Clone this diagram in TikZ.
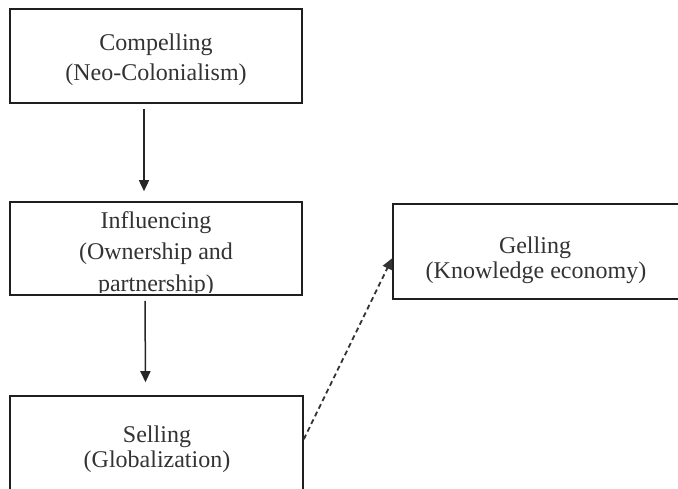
\documentclass[tikz,border=0pt]{standalone}
\usepackage{fontspec}
\setmainfont{Liberation Serif}
\usetikzlibrary{arrows.meta}
\begin{document}
\begin{tikzpicture}[x=1pt,y=-1pt,
  stagebox/.style={draw=black!88, line width=1.6pt, rectangle, inner sep=0pt},
  txt/.style={text=black!80, font=\fontsize{24}{28}\selectfont, inner sep=0pt, anchor=base},
  flow/.style={draw=black!85, line width=1.5pt, -{Triangle[length=11pt,width=10pt]}},
  flowdash/.style={draw=black!80, line width=1.8pt, dash pattern=on 5pt off 3.5pt,
                   -{Triangle[length=11pt,width=10pt]}}]
\useasboundingbox (0,0) rectangle (678,488);
\clip (0,0) rectangle (678,488);
\fill[white] (0,0) rectangle (678,488);

% the four stages
\node[stagebox, minimum width=292pt, minimum height=94pt] (comp) at (156,56) {};
\node[stagebox, minimum width=292pt, minimum height=93pt] (infl) at (156,248.5) {};
\node[stagebox, minimum width=293pt, minimum height=140pt] (sell) at (156.5,466) {};
\node[stagebox, minimum width=290pt, minimum height=95pt] (gell) at (538,251.5) {};

% labels
\node[txt] (compA) at (156,50) {Compelling};
\node[txt] (compB) at (156,80) {(Neo-Colonialism)};

\begin{scope}
  \clip (10,202) rectangle (302,292);
  \node[txt] (inflA) at (156,228) {Influencing};
  \node[txt] (inflB) at (156,259) {(Ownership and};
  \node[txt] (inflC) at (156,291) {partnership)};
\end{scope}

\node[txt] (sellA) at (157,442) {Selling};
\node[txt] (sellB) at (157,467) {(Globalization)};

\node[txt] (gellA) at (535,253) {Gelling};
\node[txt] (gellB) at (536,278) {(Knowledge economy)};

% connectors
\draw[flow] ([xshift=-12pt,yshift=-5pt]comp.south) -- ([xshift=-12pt,yshift=10pt]infl.north);
\draw[flow] ([xshift=-11pt,yshift=-5pt]infl.south) -- ([xshift=-11pt,yshift=13pt]sell.north);
\draw[flowdash] ([yshift=-44pt]sell.north east) -- ([yshift=-55pt]gell.north west);
\end{tikzpicture}
\end{document}
